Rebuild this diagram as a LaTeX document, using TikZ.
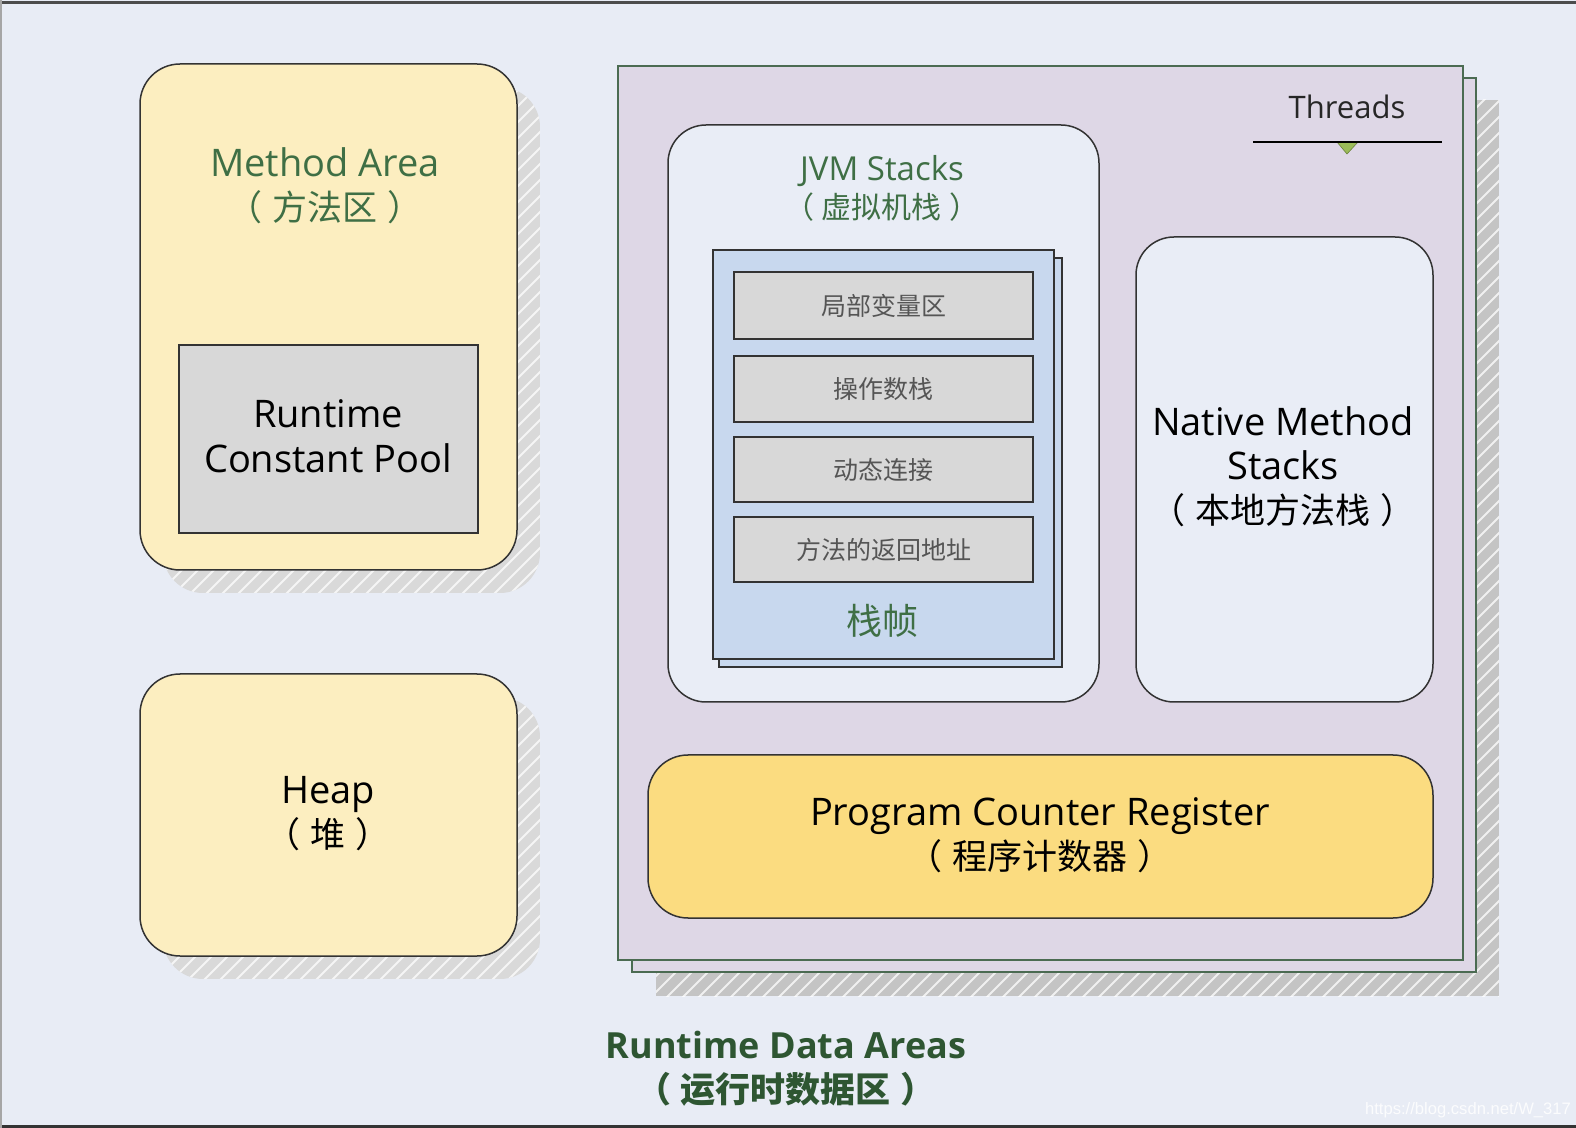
\documentclass[tikz,border=0pt]{standalone}
\usepackage{fontspec}
\setmainfont{Open Sans}
\newfontfamily\cjk{Noto Sans CJK SC}
\newfontfamily\wmfont{Liberation Sans}
\newcommand\myLP{（\kern5pt}
\newcommand\myRP{\kern5pt）}
\definecolor{bgcol}{HTML}{E8ECF5}
\definecolor{areafill}{HTML}{FCEEC0}
\definecolor{poolfill}{HTML}{D8D8D8}
\definecolor{threadfill}{HTML}{DED7E6}
\definecolor{threadline}{HTML}{4B6B52}
\definecolor{jvmfill}{HTML}{E9EDF6}
\definecolor{framefill}{HTML}{C8D8EE}
\definecolor{pcrfill}{HTML}{FBDC80}
\definecolor{shadowlight}{HTML}{D9D9D9}
\definecolor{shadowdark}{HTML}{C4C4C4}
\definecolor{titlegreen}{HTML}{3F6F45}
\definecolor{deepgreen}{HTML}{2E5632}
\definecolor{trigreen}{HTML}{9BBB59}
\definecolor{itemgray}{HTML}{555555}
\definecolor{boxline}{HTML}{333333}
\begin{document}
\begin{tikzpicture}[x=0.5pt,y=-0.5pt,
  boxdraw/.style={draw=boxline,line width=0.75pt},
  hatchline/.style={white,opacity=0.75,line width=0.9pt},
  latinbig/.style={anchor=base,inner sep=0pt,font=\fontsize{19}{23}\selectfont},
  cjkbig/.style={anchor=base,inner sep=0pt,font=\cjk\fontsize{17.5}{20}\selectfont},
  itemtext/.style={anchor=center,inner sep=0pt,text=itemgray,font=\cjk\fontsize{12.5}{15}\selectfont}]
% background and frame
\fill[bgcol] (0,0) rectangle (1576,1128);
\useasboundingbox (0,0) rectangle (1576,1128);
\draw[color=black!70,line width=1.5pt] (0,3) -- (1576,3);
\draw[color=black!80,line width=1.5pt] (0,1126.5) -- (1576,1126.5);
\draw[color=black!35,line width=1pt] (1,0) -- (1,1128);

% ---- shadows ----
\begin{scope}
  \clip[rounded corners=20pt] (163,87) rectangle (540,593);
  \fill[shadowlight] (163,87) rectangle (540,593);
  \foreach \i in {-1128,-1112,...,1576} \draw[hatchline] (\i,1128) -- ++(1128,-1128);
\end{scope}
\begin{scope}
  \clip[rounded corners=20pt] (163,697) rectangle (540,979);
  \fill[shadowlight] (163,697) rectangle (540,979);
  \foreach \i in {-1128,-1112,...,1576} \draw[hatchline] (\i,1128) -- ++(1128,-1128);
\end{scope}
\begin{scope}
  \clip (656,100) rectangle (1499,996);
  \fill[shadowdark] (656,100) rectangle (1499,996);
  \foreach \i in {-1128,-1112,...,1576} \draw[hatchline] (\i,1128) -- ++(1128,-1128);
\end{scope}

% ---- Method Area ----
\draw[boxdraw,fill=areafill,rounded corners=20pt] (140,64) rectangle (517,570);
\node[latinbig,text=titlegreen] (ma1) at (325,177) {Method Area};
\node[cjkbig,text=titlegreen] (ma2) at (325,221) {\myLP 方法区\myRP};
\draw[boxdraw,fill=poolfill,rounded corners=0pt] (179,345) rectangle (478,533);
\node[latinbig] (rcp1) at (328,428) {Runtime};
\node[latinbig] (rcp2) at (328,473) {Constant Pool};

% ---- Heap ----
\draw[boxdraw,fill=areafill,rounded corners=20pt] (140,674) rectangle (517,956);
\node[latinbig] (heap1) at (328,804) {Heap};
\node[cjkbig] (heap2) at (328,847) {\myLP 堆\myRP};

% ---- Threads ----
\draw[draw=threadline,line width=1pt,fill=threadfill] (632,78) rectangle (1476,972);
\draw[draw=threadline,line width=1pt,fill=threadfill] (618,66) rectangle (1463,960);
\node[anchor=base,inner sep=0pt,font=\fontsize{15.5}{19}\selectfont,text=black!85] (thr) at (1347,119) {Threads};
\fill[trigreen,draw=trigreen!70!black,line width=0.3pt] (1337,142) -- (1358,142) -- (1347,154) -- cycle;
\draw[black,line width=0.7pt] (1253,142) -- (1442,142);

% ---- JVM Stacks ----
\draw[boxdraw,fill=jvmfill,rounded corners=19pt] (668,125) rectangle (1099,702);
\node[anchor=base,inner sep=0pt,font=\fontsize{16.5}{20}\selectfont,text=titlegreen] (jvm1) at (882,181) {JVM Stacks};
\node[anchor=base,inner sep=0pt,font=\cjk\fontsize{15}{18}\selectfont,text=titlegreen] (jvm2) at (882,219) {（\kern4pt 虚拟机栈\kern4pt）};
\draw[boxdraw,fill=framefill] (719,258) rectangle (1062,667);
\draw[boxdraw,fill=framefill] (713,250) rectangle (1054,659);
\draw[boxdraw,fill=poolfill] (734,272) rectangle (1033,339);
\draw[boxdraw,fill=poolfill] (734,356) rectangle (1033,422);
\draw[boxdraw,fill=poolfill] (734,437) rectangle (1033,502);
\draw[boxdraw,fill=poolfill] (734,517) rectangle (1033,582);
\node[itemtext] (it1) at (883.5,305.5) {局部变量区};
\node[itemtext] (it2) at (883.5,389) {操作数栈};
\node[itemtext] (it3) at (883.5,469.5) {动态连接};
\node[itemtext] (it4) at (883.5,549.5) {方法的返回地址};
\node[anchor=base,inner sep=0pt,font=\cjk\fontsize{18}{22}\selectfont,text=titlegreen] (frame) at (882,635) {栈帧};

% ---- Native Method Stacks ----
\draw[boxdraw,fill=jvmfill,rounded corners=19pt] (1136,237) rectangle (1433,702);
\node[latinbig] (nm1) at (1283,436) {Native Method};
\node[latinbig] (nm2) at (1283,480) {Stacks};
\node[cjkbig] (nm3) at (1283,524) {\myLP 本地方法栈\myRP};

% ---- Program Counter Register ----
\draw[boxdraw,fill=pcrfill,rounded corners=20pt] (648,755) rectangle (1433,918);
\node[latinbig] (pc1) at (1040,825) {Program Counter Register};
\node[cjkbig] (pc2) at (1040,869) {\myLP 程序计数器\myRP};

% ---- caption ----
\node[anchor=base,inner sep=0pt,font=\bfseries\fontsize{18}{22}\selectfont,text=deepgreen] (rda1) at (786,1058) {Runtime Data Areas};
\node[anchor=base,inner sep=0pt,font=\cjk\bfseries\fontsize{17.5}{20}\selectfont,text=deepgreen] (rda2) at (786,1102) {\myLP 运行时数据区\myRP};

% ---- watermark ----
\node[anchor=base,inner sep=0pt,font=\wmfont\fontsize{8.3}{10}\selectfont,text=white,opacity=0.85] (wm) at (1468,1114) {https://blog.csdn.net/W\_317};
\end{tikzpicture}
\end{document}
